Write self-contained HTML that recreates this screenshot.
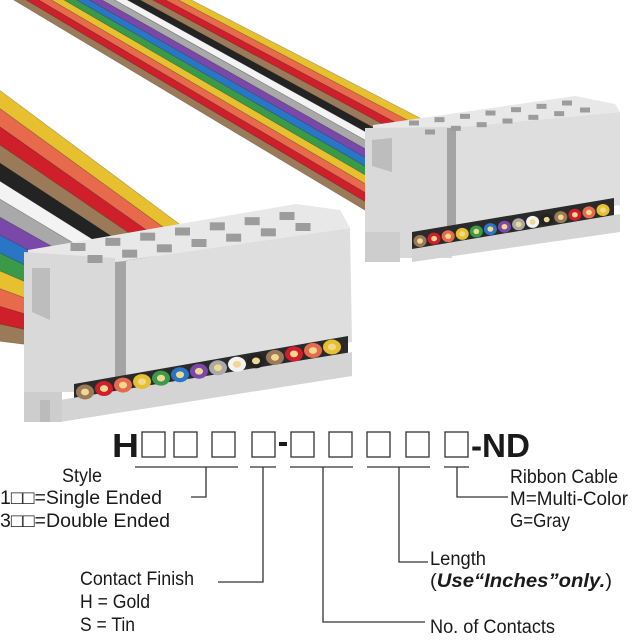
<!DOCTYPE html>
<html><head><meta charset="utf-8"><style>
html,body{margin:0;padding:0;background:#fff;}
svg{display:block}
text{font-family:"Liberation Sans",sans-serif;fill:#1a1a1a}
</style></head><body>
<svg id="s" width="640" height="640" viewBox="0 0 640 640" xmlns="http://www.w3.org/2000/svg">
<g id="cables"></g>
<!-- Right connector -->
<g>
<polygon points="373,125 575,96 615,104 620,112 450,128 373,132" fill="#e8e8e8"/>
<polygon points="365,128 450,127 452,258 365,258" fill="#d9d9d9"/>
<polygon points="372,140 392,138 392,172 372,166" fill="#bdbdbd"/>
<polygon points="450,128 620,112 620,205 452,232" fill="#dedede"/>
<polygon points="447,128 456,128 456,232 447,234" fill="#a4a4a4"/>
<polygon points="412,232 614,198 614,217 412,250" fill="#2a2a2a"/>
<polygon points="412,249 620,214 620,232 412,262" fill="#d4d4d4"/>
<polygon points="365,232 400,232 400,262 365,262" fill="#cdcdcd"/>
<g id="rholes" fill="#9c9c9c"></g>
<g id="rpins"></g>
</g>
<!-- Left connector -->
<g>
<polygon points="28,250 296,204 340,210 350,228 115,262 28,262" fill="#e8e8e8"/>
<polygon points="24,252 115,258 117,392 24,392" fill="#d9d9d9"/>
<polygon points="32,268 50,268 50,320 32,312" fill="#bdbdbd"/>
<polygon points="115,262 350,228 352,342 117,378" fill="#dedede"/>
<polygon points="115,262 126,261 126,378 115,380" fill="#a4a4a4"/>
<polygon points="74,384 348,336 348,358 74,404" fill="#2a2a2a"/>
<polygon points="60,400 352,352 352,376 60,422" fill="#d4d4d4"/>
<polygon points="24,392 62,392 62,422 24,422" fill="#cdcdcd"/>
<polygon points="40,400 50,400 50,422 40,422" fill="#bbbbbb"/>
<g id="lholes" fill="#9c9c9c"></g>
<g id="lpins"></g>
</g>
<!-- Part number -->
<text x="112" y="457" font-size="33" font-weight="bold" textLength="27" lengthAdjust="spacingAndGlyphs">H</text>
<g fill="none" stroke="#333" stroke-width="1.3">
<rect x="142" y="432" width="23" height="25"/>
<rect x="174" y="432" width="23" height="25"/>
<rect x="212" y="432" width="23" height="25"/>
<rect x="252" y="432" width="23" height="25"/>
<rect x="291" y="432" width="23" height="25"/>
<rect x="329" y="432" width="23" height="25"/>
<rect x="367" y="432" width="23" height="25"/>
<rect x="406" y="432" width="23" height="25"/>
<rect x="445" y="432" width="23" height="25"/>
</g>
<rect x="279" y="442" width="8" height="4" fill="#1a1a1a"/>
<text x="471" y="457" font-size="33" font-weight="bold" textLength="59" lengthAdjust="spacingAndGlyphs">-ND</text>
<g stroke="#333" stroke-width="1.3" fill="none">
<line x1="135" y1="467" x2="238" y2="467"/>
<line x1="250" y1="467" x2="276" y2="467"/>
<line x1="290" y1="467" x2="353" y2="467"/>
<line x1="367" y1="467" x2="430" y2="467"/>
<line x1="444" y1="467" x2="469" y2="467"/>
<polyline points="206,467 206,497 191,497"/>
<polyline points="263,467 263,582 218,582"/>
<polyline points="323,467 323,622 425,622"/>
<polyline points="399,467 399,562 428,562"/>
<polyline points="457,467 457,497 508,497"/>
</g>
<g font-size="19">
<text x="62" y="482" textLength="40" lengthAdjust="spacingAndGlyphs">Style</text>
<text x="0" y="504" textLength="162" lengthAdjust="spacingAndGlyphs">1□□=Single Ended</text>
<text x="0" y="527" textLength="170" lengthAdjust="spacingAndGlyphs">3□□=Double Ended</text>
<text x="510" y="483" textLength="108" lengthAdjust="spacingAndGlyphs">Ribbon Cable</text>
<text x="510" y="505" textLength="118" lengthAdjust="spacingAndGlyphs">M=Multi-Color</text>
<text x="510" y="527" textLength="60" lengthAdjust="spacingAndGlyphs">G=Gray</text>
<text x="430" y="565" textLength="56" lengthAdjust="spacingAndGlyphs">Length</text>
<text x="430" y="587" textLength="182" lengthAdjust="spacingAndGlyphs">(<tspan font-weight="bold" font-style="italic">Use“Inches”only.</tspan>)</text>
<text x="80" y="585" textLength="114" lengthAdjust="spacingAndGlyphs">Contact Finish</text>
<text x="80" y="608" textLength="70" lengthAdjust="spacingAndGlyphs">H = Gold</text>
<text x="80" y="631" textLength="55" lengthAdjust="spacingAndGlyphs">S = Tin</text>
<text x="430" y="633" textLength="125" lengthAdjust="spacingAndGlyphs">No. of Contacts</text>
</g>
</svg>
<script>
var NS="http://www.w3.org/2000/svg";
var C={br:"#9a7a58",r:"#cf1f2a",o:"#e86a4c",y:"#e6c02e",g:"#3a9a48",b:"#2a76c6",p:"#7a48a8",gy:"#a9a9a9",w:"#f3f3f3",k:"#232323"};
var order=["br","r","o","y","g","b","p","gy","w","k","br","r","o","y"];
function el(t,a,p){var e=document.createElementNS(NS,t);for(var k in a)e.setAttribute(k,a[k]);p.appendChild(e);return e;}
function cable(s0,s1,e0,e1,ord){var g=document.getElementById("cables");var n=ord.length;
for(var i=0;i<n;i++){var a=i/n,b=(i+1)/n;function L(p,q,t){return [p[0]+(q[0]-p[0])*t,p[1]+(q[1]-p[1])*t];}
var pts=[L(s0,s1,a),L(s0,s1,b),L(e0,e1,b),L(e0,e1,a)];
el("polygon",{points:pts.map(function(p){return p.join(",")}).join(" "),fill:C[ord[i]],stroke:"rgba(0,0,0,0.25)","stroke-width":"0.7"},g);}}
cable([-3,-10],[172,-10],[368,212],[420,118],order);
cable([-10,340],[-10,83],[70,350],[182,226],order);
function holes(id,b0,b1,f0,f1,w,h){var g=document.getElementById(id);for(var i=0;i<7;i++){var t=i/6;
[[b0,b1],[f0,f1]].forEach(function(r){var x=r[0][0]+(r[1][0]-r[0][0])*t,y=r[0][1]+(r[1][1]-r[0][1])*t;
el("rect",{x:x-w/2,y:y-h/2,width:w,height:h},g);});}}
holes("lholes",[78,247],[287,216],[95,259],[303,227],15,8);
holes("rholes",[414,123],[567,103],[430,132],[585,110],10,5);
function pins(id,p0,p1,rx,ry){var g=document.getElementById(id);for(var i=0;i<14;i++){var t=i/13;
var x=p0[0]+(p1[0]-p0[0])*t,y=p0[1]+(p1[1]-p0[1])*t;
el("ellipse",{cx:x,cy:y,rx:rx,ry:ry,fill:C[order[i]]},g);
el("ellipse",{cx:x,cy:y,rx:rx*0.45,ry:ry*0.45,fill:"#f0d890"},g);}}
pins("lpins",[85,392],[332,347],9,7.5);
pins("rpins",[420,241],[603,210],6.5,6);
</script>
</body></html>
